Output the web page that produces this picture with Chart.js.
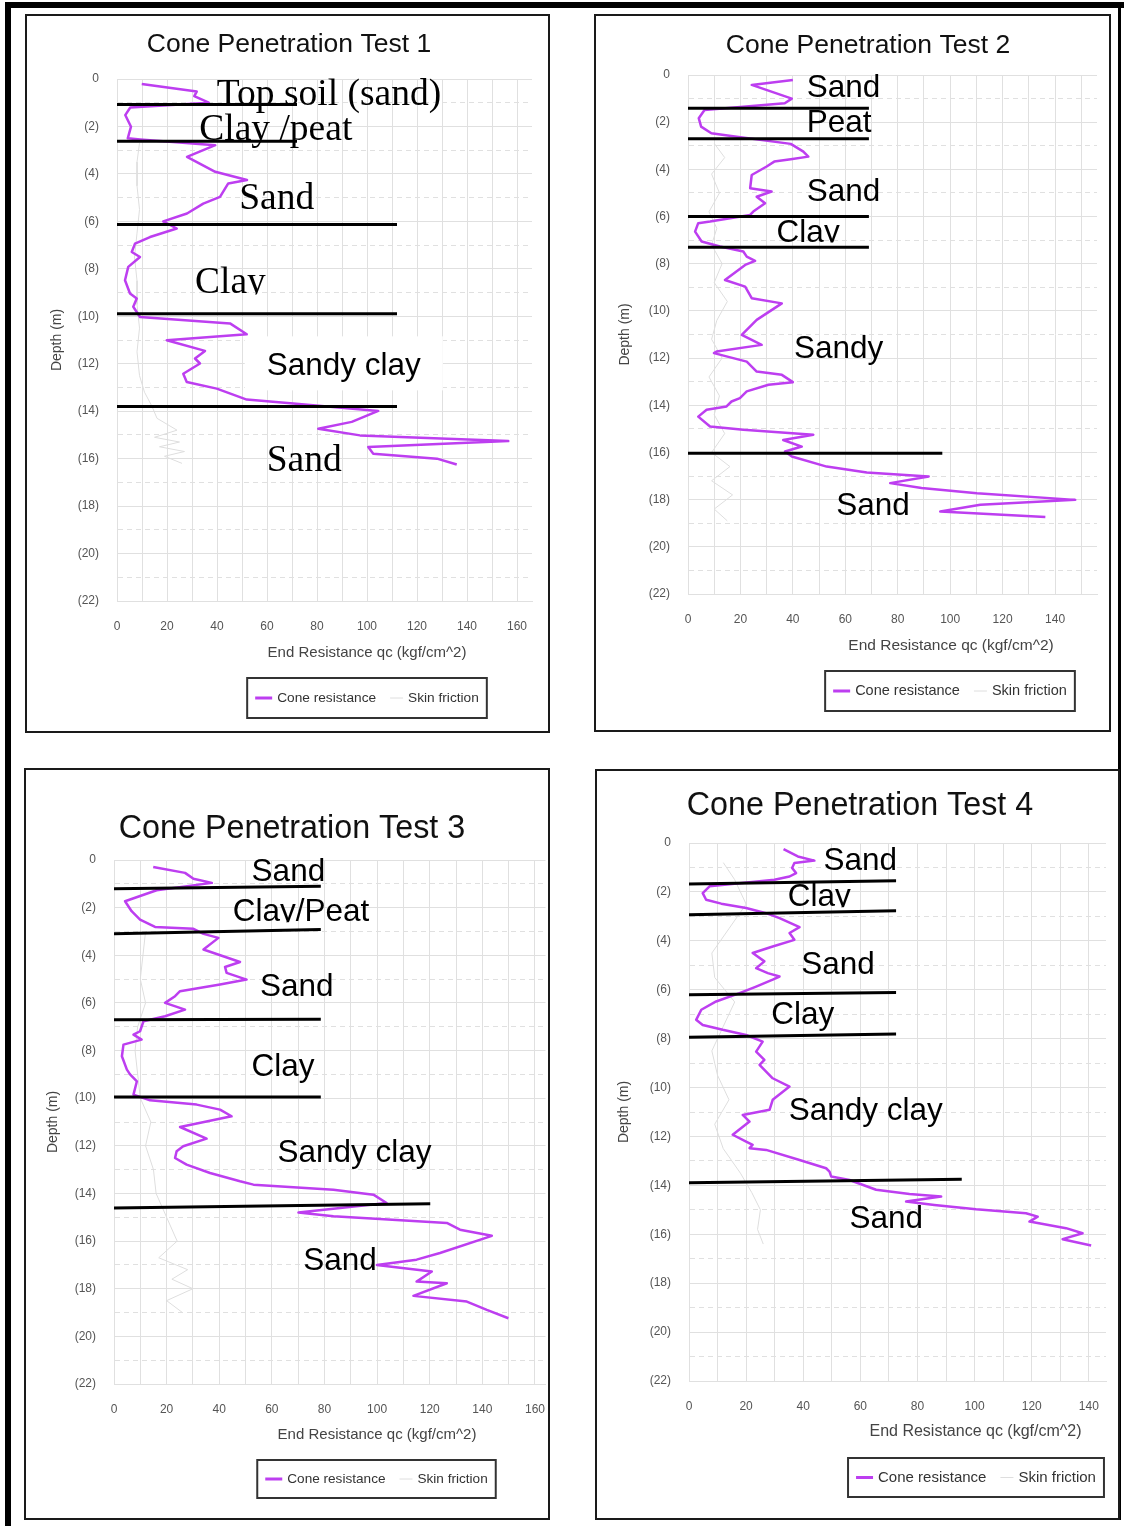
<!DOCTYPE html>
<html>
<head>
<meta charset="utf-8">
<script src="https://cdn.jsdelivr.net/npm/chart.js@4.4.1/dist/chart.umd.min.js"></script>
<style>
  body { margin: 0; background: #fff; }
  #page { position: relative; width: 1127px; height: 1526px; overflow: hidden; background: #fff; }
  .bar { position: absolute; background: #000; }
  .panel { position: absolute; border: 2px solid #1a1a1a; background: #fff; }
  .panel canvas { position: absolute; left: 0; top: 0; }
</style>
</head>
<body>
<div id="page">
  <div class="bar" style="left:5px;top:2px;width:1119px;height:6px"></div>
  <div class="bar" style="left:5px;top:2px;width:6px;height:1524px"></div>
  <div class="bar" style="left:1118px;top:2px;width:3px;height:1518px"></div>
  <div class="panel" style="left:25px;top:14px;width:521px;height:715px"><canvas id="c1" width="521" height="715"></canvas></div>
  <div class="panel" style="left:594px;top:14px;width:513px;height:714px"><canvas id="c2" width="513" height="714"></canvas></div>
  <div class="panel" style="left:24px;top:768px;width:522px;height:748px"><canvas id="c3" width="522" height="748"></canvas></div>
  <div class="panel" style="left:595px;top:769px;width:521px;height:747px"><canvas id="c4" width="521" height="747"></canvas></div>
</div>
<script>
// --- CPT 1 ---
const cpt1Depth = [0.21, 0.53, 0.72, 1.0, 1.2, 1.52, 2.01, 2.5, 2.55, 2.79, 3.28, 3.91, 4.26, 4.4, 4.97, 5.25, 5.67, 6.0, 6.3, 6.66, 6.94, 7.29, 7.5, 7.92, 8.48, 9.04, 9.25, 9.6, 10.03, 10.3, 10.76, 11.01, 11.46, 11.78, 11.99, 12.42, 12.77, 13.05, 13.51, 13.68, 13.99, 14.45, 14.74, 15.02, 15.26, 15.51, 15.79, 16.0, 16.25];
const cpt1Qc = [9.9, 31.9, 30.9, 36.7, 5.3, 3.3, 5.6, 4.3, 9.3, 39.3, 28, 39.3, 52, 44.5, 41.2, 34.5, 28, 18.5, 23.9, 13.2, 7.2, 5.9, 9.2, 4.5, 3.2, 5.2, 7.9, 6.5, 9.2, 45.2, 51.9, 19.9, 35.2, 31.2, 33.2, 26.5, 27.9, 39.9, 51.9, 70.5, 104.5, 93.9, 80.5, 97.2, 156.5, 100.5, 102.5, 128, 135.9];
const cpt1SfDepth = [2.7, 3.5, 4.5, 5.5, 6.5, 7.5, 8.5, 9.5, 10.5, 11.5, 12.5, 13.2, 13.8, 14.3, 14.8, 15.1, 15.3, 15.5, 15.7, 15.9, 16.2];
const cpt1Sf = [9, 8, 8, 9, 8, 7, 8, 8, 9, 8, 9, 11, 14, 16, 24, 15, 25, 17, 27, 19, 26];
const cpt1BoundTop = [1.07, 2.62, 6.13, 9.89, 13.8];
const cpt1BoundEnd = [1.07, 2.62, 6.13, 9.89, 13.8];
const cpt1BoundReach = [72, 72, 112, 112, 112];
const cpt1Names = ['Top soil (sand)', 'Clay /peat', 'Sand', 'Clay', 'Sandy clay', 'Sand'];
const cpt1NameQc = [39.9, 32.9, 48.9, 31.2, 59.9, 59.9];
const cpt1NameDepth = [1.10, 2.56, 5.49, 9.04, 12.49, 16.53];

// --- CPT 2 ---
const cpt2Depth = [0.21, 0.42, 1.0, 1.2, 1.48, 1.83, 2.19, 2.47, 2.59, 2.92, 3.25, 3.46, 3.57, 3.67, 3.88, 4.24, 4.8, 4.94, 5.16, 5.44, 5.79, 5.93, 6.21, 6.28, 6.64, 7.06, 7.27, 7.48, 7.7, 7.88, 8.05, 8.69, 8.97, 9.46, 9.68, 10.38, 11.02, 11.44, 11.72, 11.79, 12.15, 12.57, 12.71, 13.02, 13.13, 13.41, 13.7, 13.84, 14.05, 14.19, 14.48, 14.9, 15.04, 15.25, 15.47, 15.75, 15.96, 16.17, 16.6, 16.85, 17.02, 17.3, 17.51, 17.73, 18.01, 18.22, 18.5, 18.74];
const cpt2Qc = [40, 24.3, 39.6, 36.9, 6.3, 4.1, 5.0, 8.9, 16.5, 39.2, 44.0, 45.9, 39.2, 32.9, 30.0, 24.3, 23.7, 31.9, 26.2, 29.4, 24.9, 23.7, 8.4, 3.9, 2.7, 5.2, 12.2, 21.1, 22.4, 25.6, 21.8, 14.1, 21.8, 24.3, 35.8, 26.2, 20.5, 28.1, 10.9, 9.9, 22.4, 26.2, 35.8, 40, 30.7, 22.4, 19.8, 16.6, 14.7, 7.1, 3.9, 8.4, 21.1, 47.8, 36.3, 43.4, 37.0, 39.6, 52.9, 68.2, 91.8, 77.1, 89.1, 110.2, 147.7, 111.5, 96.2, 136.3];
const cpt2SfDepth = [2.9, 3.5, 4.2, 5, 5.8, 6.5, 7.2, 8, 8.8, 9.6, 10.4, 11.2, 12, 12.8, 13.6, 14.4, 15.2, 16, 16.6, 17.2, 17.8, 18.4, 18.9];
const cpt2Sf = [10, 14, 9, 12, 8, 11, 9, 13, 10, 15, 11, 9, 13, 8, 12, 10, 14, 9, 16, 9, 17, 10, 15];
const cpt2BoundTop = [1.41, 2.7, 6.0, 7.3, 16.03];
const cpt2BoundEnd = [1.41, 2.7, 6.0, 7.3, 16.03];
const cpt2BoundReach = [69, 69, 69, 69, 97];
const cpt2Names = ['Sand', 'Peat', 'Sand', 'Clay', 'Sandy', 'Sand'];
const cpt2NameQc = [45.3, 45.3, 45.3, 33.8, 40.4, 56.5];
const cpt2NameDepth = [0.95, 2.40, 5.33, 7.06, 12.0, 18.64];

// --- CPT 3 ---
const cpt3Depth = [0.29, 0.54, 0.79, 0.96, 1.27, 1.73, 2.15, 2.5, 2.81, 2.89, 3.1, 3.27, 3.76, 4.28, 4.49, 4.74, 5.02, 5.23, 5.51, 5.72, 6.0, 6.28, 6.56, 6.77, 7.19, 7.33, 7.54, 7.75, 8.24, 8.8, 9.0, 9.29, 9.85, 10.09, 10.27, 10.48, 10.76, 11.21, 11.7, 12.02, 12.23, 12.51, 12.79, 13.14, 13.49, 13.63, 13.84, 14.05, 14.4, 14.8, 14.96, 15.24, 15.52, 15.78, 16.5, 16.78, 17.0, 17.28, 17.7, 17.77, 18.3, 18.54, 18.89, 19.24];
const cpt3Qc = [14.9, 27.0, 30.2, 37.2, 16.2, 4.2, 6.7, 9.9, 15.6, 30.2, 34.0, 39.7, 34.0, 47.9, 42.2, 42.8, 50.4, 40.3, 25.1, 23.2, 19.4, 27.0, 19.4, 11.2, 9.9, 7.4, 10.5, 3.6, 3.0, 4.9, 6.1, 8.7, 7.4, 13.7, 31.4, 40.3, 44.7, 25.1, 35.2, 26.3, 23.8, 23.2, 27.6, 36.5, 47.9, 53.0, 83.4, 98.6, 103.6, 70.1, 83.4, 126.5, 131.5, 143.6, 123.9, 115.0, 99.9, 120.8, 115.0, 126.5, 113.8, 134.1, 141.7, 149.9];
const cpt3SfDepth = [3, 4, 5, 6, 7, 8, 9, 10, 11, 12, 13, 14, 15, 16, 16.7, 17.2, 17.6, 18, 18.5, 19];
const cpt3Sf = [12, 11, 10, 12, 9, 8, 9, 10, 14, 12, 15, 16, 20, 24, 17, 28, 22, 30, 20, 26];
const cpt3BoundTop = [1.21, 3.1, 6.71, 9.95, 14.61];
const cpt3BoundEnd = [1.1, 2.92, 6.69, 9.95, 14.43];
const cpt3BoundReach = [78.6, 78.6, 78.6, 78.6, 120.2];
const cpt3Names = ['Sand', 'Clay/Peat', 'Sand', 'Clay', 'Sandy clay', 'Sand'];
const cpt3NameQc = [52.3, 45.1, 55.5, 52.3, 62.1, 71.9];
const cpt3NameDepth = [0.89, 2.57, 5.69, 9.05, 12.66, 17.21];

// --- CPT 4 ---
const cpt4Depth = [0.25, 0.55, 0.72, 0.82, 1.02, 1.23, 1.37, 1.5, 1.77, 2.05, 2.32, 2.48, 2.66, 2.87, 3.07, 3.44, 3.68, 3.96, 4.23, 4.5, 4.84, 5.12, 5.32, 5.46, 5.59, 5.87, 6.14, 6.48, 6.82, 7.23, 7.44, 7.64, 7.85, 8.12, 8.53, 8.87, 9.07, 9.62, 9.96, 10.5, 10.91, 11.12, 11.39, 11.93, 12.21, 12.34, 12.48, 12.55, 12.96, 13.3, 13.44, 13.64, 13.78, 14.18, 14.35, 14.46, 14.66, 14.8, 14.98, 15.14, 15.28, 15.48, 15.75, 15.96, 16.2, 16.46];
const cpt4Qc = [33.1, 38.1, 43.9, 36.9, 36.1, 37.5, 35.2, 29.9, 7.2, 4.8, 6.0, 11.3, 20.0, 27.0, 31.7, 38.7, 35.2, 36.9, 29.3, 22.3, 26.4, 23.5, 27.6, 31.7, 29.3, 23.5, 17.7, 9.5, 4.3, 2.5, 4.8, 11.8, 20.0, 25.8, 23.5, 26.4, 24.7, 29.3, 35.2, 29.3, 28.2, 18.8, 21.2, 15.3, 20.0, 22.3, 21.2, 27.0, 38.7, 48.0, 49.2, 49.8, 56.2, 65.5, 77.2, 88.3, 76.0, 85.9, 100.5, 118.0, 122.1, 119.2, 132.0, 137.8, 130.8, 140.8];
const cpt4SfDepth = [0.8, 1.5, 2.5, 3.5, 4.5, 5.5, 6.5, 7.5, 8.5, 9.5, 10.5, 11.5, 12.5, 13.5, 14.3, 15, 15.8, 16.4];
const cpt4Sf = [12, 16, 20, 14, 8, 9, 16, 12, 8, 10, 14, 9, 12, 18, 22, 25, 24, 26];
const cpt4BoundTop = [1.68, 2.93, 6.21, 7.94, 13.89];
const cpt4BoundEnd = [1.54, 2.77, 6.11, 7.81, 13.75];
const cpt4BoundReach = [72.5, 72.5, 72.5, 72.5, 95.5];
const cpt4Names = ['Sand', 'Clay', 'Sand', 'Clay', 'Sandy clay', 'Sand'];
const cpt4NameQc = [47.1, 34.6, 39.3, 28.8, 34.9, 56.2];
const cpt4NameDepth = [1.12, 2.59, 5.35, 7.41, 11.32, 15.75];

const SANS = "'Liberation Sans', Arial, sans-serif";
const SERIF = "'Liberation Serif', 'Times New Roman', serif";
const coneColor = '#bd3ef0';
const skinColor = '#dedede';
const gridColor = '#e0e0e0';

const panels = [
  { canvas: 'c1', title: 'Cone Penetration Test 1', depth: cpt1Depth, qc: cpt1Qc, sfDepth: cpt1SfDepth, sf: cpt1Sf,
    bTop: cpt1BoundTop, bEnd: cpt1BoundEnd, bReach: cpt1BoundReach, names: cpt1Names, nameQc: cpt1NameQc, nameDepth: cpt1NameDepth,
    styles: ['serif', 'serif', 'serif', 'serif cut', 'sans bg', 'serif'],
    xMax: 166, pad: { left: 22, top: 63, right: 16, bottom: 90 }, yWidth: 68,
    titleAt: [262, 29, 26.5], xTitleAt: [340, 637, 15], legendAt: [340, 662, 40, 13.7] },
  { canvas: 'c2', title: 'Cone Penetration Test 2', depth: cpt2Depth, qc: cpt2Qc, sfDepth: cpt2SfDepth, sf: cpt2Sf,
    bTop: cpt2BoundTop, bEnd: cpt2BoundEnd, bReach: cpt2BoundReach, names: cpt2Names, nameQc: cpt2NameQc, nameDepth: cpt2NameDepth,
    styles: ['sans', 'sans', 'sans', 'sans cut', 'sans', 'sans'],
    xMax: 156, pad: { left: 21, top: 59, right: 12, bottom: 96 }, yWidth: 71,
    titleAt: [272, 30, 26.5], xTitleAt: [355, 630, 15.5], legendAt: [354, 655, 40, 14.5] },
  { canvas: 'c3', title: 'Cone Penetration Test 3', depth: cpt3Depth, qc: cpt3Qc, sfDepth: cpt3SfDepth, sf: cpt3Sf,
    bTop: cpt3BoundTop, bEnd: cpt3BoundEnd, bReach: cpt3BoundReach, names: cpt3Names, nameQc: cpt3NameQc, nameDepth: cpt3NameDepth,
    styles: ['sans', 'sans cut', 'sans', 'sans', 'sans', 'sans'],
    xMax: 164, pad: { left: 19, top: 90, right: 2.5, bottom: 94 }, yWidth: 69,
    titleAt: [266, 59, 32.3], xTitleAt: [351, 665, 15], legendAt: [350.5, 690, 38, 13.6] },
  { canvas: 'c4', title: 'Cone Penetration Test 4', depth: cpt4Depth, qc: cpt4Qc, sfDepth: cpt4SfDepth, sf: cpt4Sf,
    bTop: cpt4BoundTop, bEnd: cpt4BoundEnd, bReach: cpt4BoundReach, names: cpt4Names, nameQc: cpt4NameQc, nameDepth: cpt4NameDepth,
    styles: ['sans', 'sans cut', 'sans', 'sans', 'sans', 'sans'],
    xMax: 146, pad: { left: 19, top: 72, right: 12, bottom: 97 }, yWidth: 73,
    titleAt: [263, 35, 32.3], xTitleAt: [378.5, 661, 16], legendAt: [379, 687, 39, 15] }
];

function labelFont(style) {
  return style.includes('serif') ? '37.5px ' + SERIF : '31.5px ' + SANS;
}

// draws layer names, title, x title and the boxed legend
function makeDecor(p, idx) {
  const layers = p.names.map((n, i) => ({ name: n, qc: p.nameQc[i], depth: p.nameDepth[i], style: p.styles[i] }));
  return {
    id: 'decor' + idx,
    beforeDatasetsDraw(chart) {
      const { ctx, scales: { x, y } } = chart;
      layers.filter(l => l.style.includes('bg')).forEach(l => {
        ctx.save();
        ctx.font = labelFont(l.style);
        const w = ctx.measureText(l.name).width;
        const px = x.getPixelForValue(l.qc), py = y.getPixelForValue(l.depth);
        ctx.fillStyle = '#fff';
        ctx.fillRect(px - 22, py - 39, w + 44, 54);
        ctx.restore();
      });
    },
    afterDatasetsDraw(chart) {
      const { ctx, scales: { x, y } } = chart;
      layers.forEach(l => {
        const px = x.getPixelForValue(l.qc), py = y.getPixelForValue(l.depth);
        ctx.save();
        ctx.font = labelFont(l.style);
        if (l.style.includes('cut')) {
          const w = ctx.measureText(l.name).width;
          ctx.beginPath();
          ctx.rect(px - 4, py - 60, w + 8, 61);
          ctx.clip();
        }
        ctx.fillStyle = '#000';
        ctx.textAlign = 'left';
        ctx.textBaseline = 'alphabetic';
        ctx.fillText(l.name, px, py);
        ctx.restore();
      });
    },
    afterDraw(chart) {
      const ctx = chart.ctx;
      const ds = chart.data.datasets;
      ctx.save();
      ctx.textAlign = 'center';
      ctx.textBaseline = 'middle';
      ctx.fillStyle = '#111';
      ctx.font = p.titleAt[2] + 'px ' + SANS;
      ctx.fillText(p.title, p.titleAt[0], p.titleAt[1]);
      ctx.fillStyle = '#444';
      ctx.font = p.xTitleAt[2] + 'px ' + SANS;
      ctx.fillText('End Resistance qc (kgf/cm^2)', p.xTitleAt[0], p.xTitleAt[1]);

      // legend
      const [lcx, ltop, lh, lsize] = p.legendAt;
      ctx.font = lsize + 'px ' + SANS;
      const w1 = ctx.measureText(ds[0].label).width;
      const w2 = ctx.measureText(ds[1].label).width;
      const bw = 8 + 17 + 5 + w1 + 14 + 13 + 5 + w2 + 8;
      const lx = lcx - bw / 2, cy = ltop + lh / 2;
      ctx.strokeStyle = '#333';
      ctx.lineWidth = 2;
      ctx.strokeRect(lx, ltop, bw, lh);
      let cx = lx + 8;
      ctx.strokeStyle = ds[0].borderColor;
      ctx.lineWidth = 3;
      ctx.beginPath(); ctx.moveTo(cx, cy); ctx.lineTo(cx + 17, cy); ctx.stroke();
      cx += 22;
      ctx.textAlign = 'left';
      ctx.fillStyle = '#333';
      ctx.fillText(ds[0].label, cx, cy);
      cx += w1 + 14;
      ctx.strokeStyle = ds[1].borderColor;
      ctx.lineWidth = 1;
      ctx.beginPath(); ctx.moveTo(cx, cy); ctx.lineTo(cx + 13, cy); ctx.stroke();
      cx += 18;
      ctx.fillText(ds[1].label, cx, cy);
      ctx.restore();
    }
  };
}

function buildChart(p, idx) {
  const datasets = [
    { label: 'Cone resistance', data: p.depth.map((d, i) => ({ x: p.qc[i], y: d })), borderColor: coneColor, borderWidth: 2.5, order: 1 },
    { label: 'Skin friction', data: p.sfDepth.map((d, i) => ({ x: p.sf[i], y: d })), borderColor: skinColor, borderWidth: 1, order: 2 }
  ];
  p.bTop.forEach((d, i) => {
    datasets.push({ label: 'Layer boundary', data: [{ x: 0, y: d }, { x: p.bReach[i], y: p.bEnd[i] }],
      borderColor: '#000', borderWidth: 3, borderCapStyle: 'butt', order: 0 });
  });
  datasets.forEach(ds => Object.assign(ds, { showLine: true, pointRadius: 0, pointHoverRadius: 0, tension: 0, fill: false, borderJoinStyle: 'round' }));

  new Chart(document.getElementById(p.canvas), {
    type: 'scatter',
    data: { datasets },
    options: {
      responsive: false,
      animation: false,
      events: [],
      layout: { padding: p.pad },
      plugins: { legend: { display: false }, title: { display: false }, tooltip: { enabled: false } },
      scales: {
        x: {
          type: 'linear', min: 0, max: p.xMax,
          afterFit: s => { s.height = 40; },
          grid: { color: gridColor, tickColor: 'rgba(0,0,0,0)', tickLength: 16 },
          border: { color: gridColor },
          ticks: { stepSize: 10, autoSkip: false, maxRotation: 0, includeBounds: false, padding: 2,
            color: '#555', font: { size: 12, family: SANS },
            callback: v => (v % 20 === 0 ? String(v) : '') }
        },
        y: {
          type: 'linear', reverse: true, min: 0, max: 22,
          afterFit: s => { s.width = p.yWidth; },
          grid: { color: gridColor, tickColor: 'rgba(0,0,0,0)', tickLength: 16 },
          border: { color: gridColor, dash: c => (c.tick && c.tick.value % 2 !== 0 ? [5, 4] : []) },
          ticks: { stepSize: 1, autoSkip: false, padding: 2, color: '#555', font: { size: 12, family: SANS },
            callback: v => (v === 0 ? '0' : (v % 2 === 0 ? '(' + v + ')' : '')) },
          title: { display: true, text: 'Depth (m)', color: '#444', padding: 0, font: { size: 14, family: SANS } }
        }
      }
    },
    plugins: [makeDecor(p, idx)]
  });
}

document.addEventListener('DOMContentLoaded', () => {
  panels.forEach((p, i) => buildChart(p, i));
});
</script>
</body>
</html>
